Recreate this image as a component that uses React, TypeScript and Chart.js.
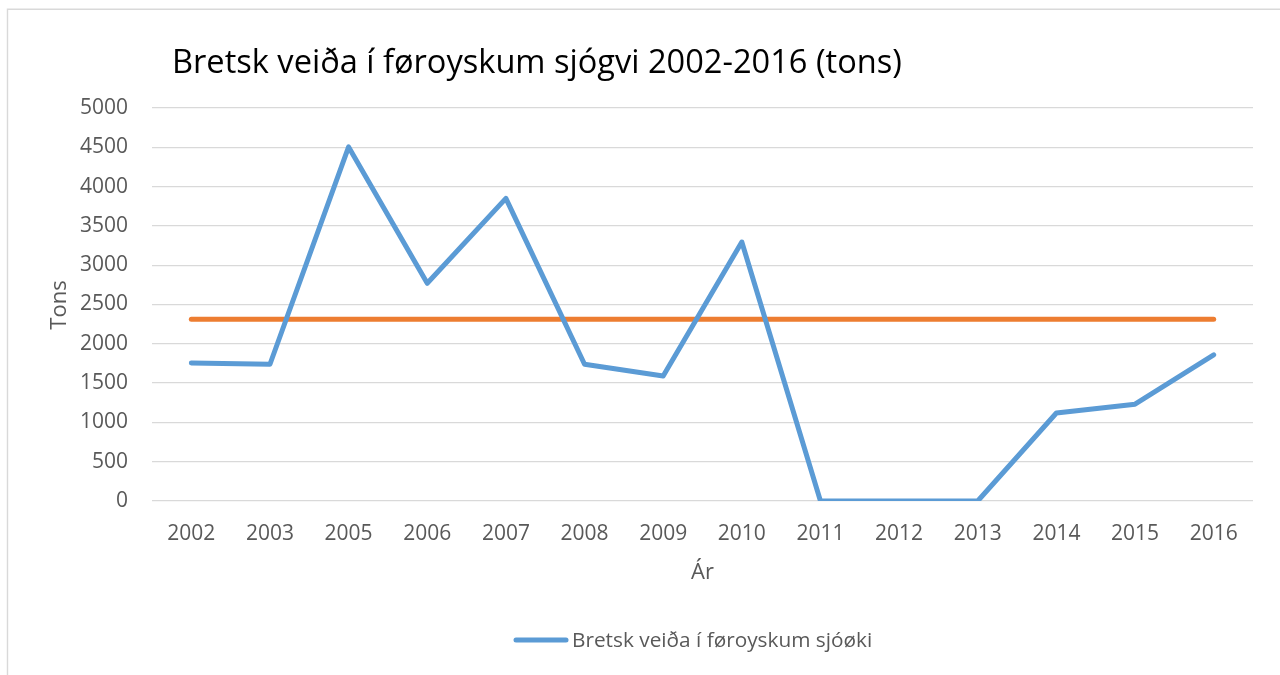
import React, { useEffect, useRef } from "react";
import { Chart, registerables } from "chart.js";

Chart.register(...registerables);

const categories = [
  "2002", "2003", "2005", "2006", "2007", "2008", "2009",
  "2010", "2011", "2012", "2013", "2014", "2015", "2016",
];
const catchValues = [1755, 1740, 4505, 2770, 3850, 1740, 1590, 3295, 0, 0, 0, 1120, 1232, 1860];
const averageValues = [2313, 2313, 2313, 2313, 2313, 2313, 2313, 2313, 2313, 2313, 2313, 2313, 2313, 2313];
const yMin = 0;
const yMax = 5000;
const yStep = 500;

const chartTitle = "Bretsk veiða í føroyskum sjógvi 2002-2016 (tons)";
const seriesLabel = "Bretsk veiða í føroyskum sjóøki";
const yAxisTitle = "Tons";
const xAxisTitle = "Ár";

const FONT = "'Open Sans', 'Noto Sans', sans-serif";
const BLUE = "#5B9BD5";
const ORANGE = "#ED7D31";
const GRAY_TEXT = "#595959";
const GRID = "#D9D9D9";

const decorPlugin = {
  id: "decor",
  beforeDraw(chart: any) {
    const ctx = chart.ctx;
    ctx.save();
    ctx.fillStyle = "#ffffff";
    ctx.fillRect(0, 0, chart.width, chart.height);
    ctx.strokeStyle = GRID;
    ctx.lineWidth = 1.4;
    ctx.beginPath();
    ctx.moveTo(7.5, chart.height + 10);
    ctx.lineTo(7.5, 9.3);
    ctx.lineTo(chart.width + 10, 9.3);
    ctx.stroke();
    ctx.restore();
  },
  afterDraw(chart: any) {
    const ctx = chart.ctx;
    const area = chart.chartArea;
    ctx.save();
    // title
    ctx.fillStyle = "#000000";
    ctx.font = `32.6px ${FONT}`;
    ctx.textAlign = "left";
    ctx.textBaseline = "alphabetic";
    ctx.fillText(chartTitle, 172, 73);

    // y axis title
    ctx.fillStyle = GRAY_TEXT;
    ctx.font = `22px ${FONT}`;
    ctx.save();
    ctx.translate(66, 305);
    ctx.rotate(-Math.PI / 2);
    ctx.textAlign = "center";
    ctx.textBaseline = "alphabetic";
    ctx.fillText(yAxisTitle, 0, 0);
    ctx.restore();

    // x axis title
    ctx.textAlign = "center";
    ctx.textBaseline = "alphabetic";
    ctx.fillText(xAxisTitle, (area.left + area.right) / 2, 579);

    // legend
    const ds = chart.data.datasets[0];
    ctx.strokeStyle = ds.borderColor;
    ctx.lineWidth = 5;
    ctx.lineCap = "round";
    ctx.beginPath();
    ctx.moveTo(516, 640);
    ctx.lineTo(566, 640);
    ctx.stroke();
    ctx.fillStyle = GRAY_TEXT;
    ctx.font = `20.8px ${FONT}`;
    ctx.textAlign = "left";
    ctx.fillText(ds.label, 572, 646.5);
    ctx.restore();
  },
};

export default function App() {
  const canvasRef = useRef<HTMLCanvasElement | null>(null);

  useEffect(() => {
    const canvas = canvasRef.current;
    if (!canvas) return;
    const chart = new Chart(canvas, {
      type: "line",
      data: {
        labels: categories,
        datasets: [
          {
            label: seriesLabel,
            data: catchValues,
            borderColor: BLUE,
            backgroundColor: BLUE,
            borderWidth: 5,
            borderCapStyle: "round",
            borderJoinStyle: "round",
            pointRadius: 0,
            pointHoverRadius: 0,
            tension: 0,
            fill: false,
            order: 1,
          },
          {
            label: "",
            data: averageValues,
            borderColor: ORANGE,
            backgroundColor: ORANGE,
            borderWidth: 5,
            borderCapStyle: "round",
            borderJoinStyle: "round",
            pointRadius: 0,
            pointHoverRadius: 0,
            tension: 0,
            fill: false,
            order: 2,
          },
        ],
      },
      options: {
        responsive: false,
        animation: false,
        devicePixelRatio: 1,
        layout: { padding: { top: 108, right: 27, bottom: 0, left: 0 } },
        plugins: {
          legend: { display: false },
          title: { display: false },
          tooltip: { enabled: false },
        },
        scales: {
          x: {
            type: "category",
            offset: true,
            afterFit(scale: any) {
              scale.height = 174;
            },
            grid: { display: false, drawTicks: false },
            border: { display: false },
            ticks: {
              color: GRAY_TEXT,
              font: { family: FONT, size: 21 },
              padding: 20,
              maxRotation: 0,
              autoSkip: false,
            },
          },
          y: {
            min: yMin,
            max: yMax,
            afterFit(scale: any) {
              scale.width = 152;
            },
            grid: { color: GRID, lineWidth: 1.3, drawTicks: false },
            border: { display: false },
            ticks: {
              stepSize: yStep,
              color: GRAY_TEXT,
              font: { family: FONT, size: 21 },
              padding: 24,
              callback: (value: any) => String(value),
            },
          },
        },
      },
      plugins: [decorPlugin],
    });
    return () => chart.destroy();
  }, []);

  return (
    <div style={{ position: "fixed", left: 0, top: 0, width: 1280, height: 675, overflow: "hidden", background: "#fff" }}>
      <canvas ref={canvasRef} width={1280} height={675} style={{ display: "block", width: 1280, height: 675 }} />
    </div>
  );
}
